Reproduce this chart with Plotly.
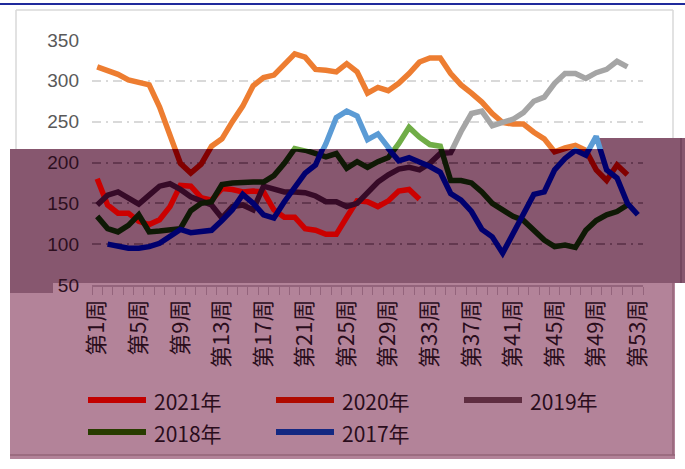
import plotly.graph_objects as go

weeks = ["第1周", "第2周", "第3周", "第4周", "第5周", "第6周", "第7周", "第8周", "第9周", "第10周",
         "第11周", "第12周", "第13周", "第14周", "第15周", "第16周", "第17周", "第18周", "第19周", "第20周",
         "第21周", "第22周", "第23周", "第24周", "第25周", "第26周", "第27周", "第28周", "第29周", "第30周",
         "第31周", "第32周", "第33周", "第34周", "第35周", "第36周", "第37周", "第38周", "第39周", "第40周",
         "第41周", "第42周", "第43周", "第44周", "第45周", "第46周", "第47周", "第48周", "第49周", "第50周",
         "第51周", "第52周", "第53周"]

y2021 = [180, 148, 138, 138, 128, 124, 130, 146, 172, 171, 157, 154, 168, 167, 164, 165, 164, 142,
         133, 133, 119, 117, 112, 112, 133, 153, 152, 146, 153, 165, 167, 155]
y2020 = [317, 312, 308, 301, 298, 295, 268, 231, 199, 187, 198, 220, 229, 250, 269, 294, 304, 307,
         320, 333, 329, 314, 313, 311, 321, 311, 285, 292, 288, 297, 309, 323, 328, 328, 309, 295,
         285, 274, 260, 249, 247, 247, 237, 229, 213, 218, 221, 215, 191, 178, 197, 185]
y2019 = [148, 160, 164, 156, 149, 160, 171, 174, 167, 158, 153, 148, 132, 146, 148, 142, 171, 167,
         164, 164, 163, 159, 152, 152, 146, 150, 162, 176, 185, 192, 194, 191, 199, 211, 212, 238,
         260, 263, 245, 249, 253, 261, 275, 280, 297, 309, 309, 303, 310, 314, 324, 317]
y2018 = [134, 119, 115, 123, 136, 115, 116, 118, 119, 141, 150, 152, 173, 175, 176, 176, 176, 184,
         199, 217, 215, 211, 207, 211, 193, 201, 194, 201, 206, 223, 243, 231, 222, 220, 178, 178,
         175, 164, 150, 142, 134, 129, 117, 105, 97, 99, 96, 117, 129, 136, 140, 148]
y2017 = [100, 97, 95, 95, 97, 101, 109, 118, 114, 116, 117, 129, 142, 161, 150, 136, 132, 152,
         170, 187, 197, 223, 255, 263, 257, 228, 235, 217, 202, 206, 201, 195, 188, 162, 154, 140,
         118, 109, 89, 113, 138, 161, 164, 191, 205, 215, 209, 232, 191, 181, 150, 136]

names = ["2021年", "2020年", "2019年", "2018年", "2017年"]
series = [(weeks[:len(y2021)], y2021), (weeks[:len(y2020)], y2020), (weeks[:len(y2019)], y2019),
          (weeks[:len(y2018)], y2018), (weeks[1:1 + len(y2017)], y2017)]
color_top = ["#c00000", "#ed7d31", "#a5a5a5", "#70ad47", "#5b9bd5"]
color_dark = ["#cc0000", "#820000", "#360a27", "#0f1905", "#00006e"]
color_legend = ["#c30000", "#b00a00", "#5f2d41", "#283c00", "#142882"]

# geometry (pixels)
L, R, T, B = 92, 643, 40, 285
W, H = 685, 469
split_px = 149
d = (B - split_px) / (B - T)
ymin, ymax = 50, 350
split_val = ymin + (ymax - ymin) * d


def px(x, y):
    return (x - L) / (R - L), (B - y) / (B - T)


fig = go.Figure()
for i, (xs, ys) in enumerate(series):
    fig.add_trace(go.Scatter(x=xs, y=ys, mode="lines", yaxis="y2", showlegend=False,
                             line=dict(color=color_top[i], width=5.5), hoverinfo="skip"))
for i, (xs, ys) in enumerate(series):
    fig.add_trace(go.Scatter(x=xs, y=ys, mode="lines", yaxis="y", showlegend=False, name=names[i],
                             line=dict(color=color_dark[i], width=5.5)))

shapes = []


def rect(x0, y0, x1, y1, color):
    a0, b0 = px(x0, y1)
    a1, b1 = px(x1, y0)
    shapes.append(dict(type="rect", xref="paper", yref="paper", x0=a0, y0=b0, x1=a1, y1=b1,
                       fillcolor=color, line=dict(width=0), layer="below"))


def seg(x0, y0, x1, y1, color, width):
    a0, b0 = px(x0, y0)
    a1, b1 = px(x1, y1)
    shapes.append(dict(type="line", xref="paper", yref="paper", x0=a0, y0=b0, x1=a1, y1=b1,
                       line=dict(color=color, width=width), layer="below"))


seg(0, 4, W, 4, "#1f2a9c", 2)
# chart border (white part)
seg(16, 10, 673, 10, "#d9d9d9", 1.5)
seg(16, 10, 16, 149, "#d9d9d9", 1.5)
seg(673, 10, 673, 140, "#d9d9d9", 1.5)
# overlays
rect(10, 283, 675, 459, "#b38399")
rect(10, 149, W, 283, "#87576f")
rect(597, 138, W, 149, "#87576f")
rect(10, 283, 53, 293, "#87576f")
seg(10, 455, 675, 455, "#946479", 1.5)
seg(673, 283, 673, 455, "#946479", 1.5)
seg(681, 138, 681, 283, "#6e4058", 1.5)

annotations = []
leg_pos = [(88, 400), (276, 400), (464, 400), (88, 432), (276, 432)]
for i, (lx, ly) in enumerate(leg_pos):
    a0, b0 = px(lx, ly)
    a1, _ = px(lx + 58, ly)
    shapes.append(dict(type="line", xref="paper", yref="paper", x0=a0, y0=b0, x1=a1, y1=b0,
                       line=dict(color=color_legend[i], width=6)))
    tx, ty = px(lx + 64, ly + 1)
    annotations.append(dict(xref="paper", yref="paper", x=tx, y=ty, xanchor="left", yanchor="middle",
                            text=names[i], showarrow=False,
                            font=dict(family="Noto Sans CJK SC", size=21, color="#2a0d1c")))

ticktext = [w if i % 4 == 0 else "" for i, w in enumerate(weeks)]
griddash = "9px,5px,2px,5px"

fig.update_layout(
    width=W, height=H, autosize=False,
    margin=dict(l=L, r=W - R, t=T, b=H - B, pad=0),
    paper_bgcolor="white", plot_bgcolor="rgba(0,0,0,0)",
    showlegend=False,
    shapes=shapes, annotations=annotations,
    xaxis=dict(type="category", categoryorder="array", categoryarray=weeks, range=[-0.5, 52.5],
               tickmode="array", tickvals=weeks, ticktext=ticktext, tickson="boundaries",
               ticks="outside", ticklen=8, tickwidth=1.2, tickcolor="#94647c",
               showline=True, linecolor="#94647c", linewidth=1.5, showgrid=False,
               tickangle=-90, ticklabelstandoff=4,
               tickfont=dict(family="Noto Sans CJK SC", size=22, color="#2a0d1c"),
               anchor="y", fixedrange=True),
    yaxis=dict(domain=[0, d], range=[ymin, split_val], tickvals=[50, 100, 150, 200],
               showgrid=True, gridcolor="#63384f", griddash=griddash, gridwidth=1.5,
               zeroline=False, showline=False, ticks="", ticklabelstandoff=12,
               tickfont=dict(family="Liberation Sans", size=19, color="#2d0f1f"),
               anchor="x", fixedrange=True),
    yaxis2=dict(domain=[d, 1], range=[split_val, ymax], tickvals=[250, 300, 350],
                showgrid=True, gridcolor="#d9d9d9", griddash=griddash, gridwidth=1.5,
                zeroline=False, showline=False, ticks="", ticklabelstandoff=12,
                tickfont=dict(family="Liberation Sans", size=19, color="#595959"),
                anchor="x", fixedrange=True),
)

fig.write_html("out.html", config={"displayModeBar": False},
               post_script="document.body.style.margin='0px';document.body.style.padding='0px';")
